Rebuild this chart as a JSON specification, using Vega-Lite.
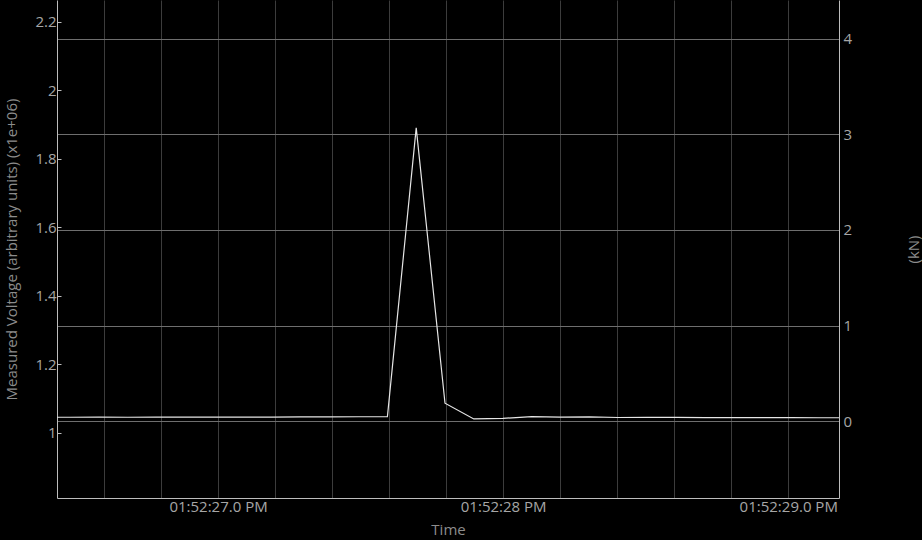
{
  "$schema": "https://vega.github.io/schema/vega-lite/v6.json",
  "width": 782,
  "height": 498,
  "autosize": {"type": "none"},
  "padding": {"left": 57, "top": 0, "right": 83, "bottom": 42},
  "background": "#000000",
  "data": {
    "values": [
      {"seconds": 26.379, "voltage": 1.0458, "force": 0.039},
      {"seconds": 26.481, "voltage": 1.0458, "force": 0.039},
      {"seconds": 26.582, "voltage": 1.0459, "force": 0.039},
      {"seconds": 26.683, "voltage": 1.0458, "force": 0.039},
      {"seconds": 26.784, "voltage": 1.0460, "force": 0.040},
      {"seconds": 26.885, "voltage": 1.0459, "force": 0.039},
      {"seconds": 26.987, "voltage": 1.0460, "force": 0.040},
      {"seconds": 27.088, "voltage": 1.0461, "force": 0.040},
      {"seconds": 27.189, "voltage": 1.0462, "force": 0.040},
      {"seconds": 27.290, "voltage": 1.0466, "force": 0.041},
      {"seconds": 27.391, "voltage": 1.0470, "force": 0.042},
      {"seconds": 27.493, "voltage": 1.0472, "force": 0.043},
      {"seconds": 27.594, "voltage": 1.0476, "force": 0.044},
      {"seconds": 27.695, "voltage": 1.8905, "force": 3.065},
      {"seconds": 27.796, "voltage": 1.0867, "force": 0.184},
      {"seconds": 27.897, "voltage": 1.0409, "force": 0.021},
      {"seconds": 27.999, "voltage": 1.0425, "force": 0.027},
      {"seconds": 28.100, "voltage": 1.0476, "force": 0.044},
      {"seconds": 28.201, "voltage": 1.0460, "force": 0.040},
      {"seconds": 28.302, "voltage": 1.0466, "force": 0.041},
      {"seconds": 28.403, "voltage": 1.0450, "force": 0.036},
      {"seconds": 28.505, "voltage": 1.0452, "force": 0.037},
      {"seconds": 28.606, "voltage": 1.0455, "force": 0.038},
      {"seconds": 28.707, "voltage": 1.0448, "force": 0.036},
      {"seconds": 28.808, "voltage": 1.0446, "force": 0.035},
      {"seconds": 28.909, "voltage": 1.0447, "force": 0.035},
      {"seconds": 29.011, "voltage": 1.0445, "force": 0.035},
      {"seconds": 29.112, "voltage": 1.0443, "force": 0.034},
      {"seconds": 29.213, "voltage": 1.0442, "force": 0.034}
    ]
  },
  "encoding": {
    "x": {
      "field": "seconds",
      "type": "quantitative",
      "title": "Time",
      "scale": {"domain": [26.435, 29.178], "nice": false, "zero": false},
      "axis": {
        "values": [26.6, 26.8, 27, 27.2, 27.4, 27.6, 27.8, 28, 28.2, 28.4, 28.6, 28.8, 29],
        "labelExpr": "datum.value == 27 ? '01:52:27.0 PM' : datum.value == 28 ? '01:52:28 PM' : datum.value == 29 ? '01:52:29.0 PM' : ''",
        "labelOverlap": false,
        "labelFlush": false,
        "ticks": false,
        "grid": true,
        "gridColor": "#3c3c3c",
        "labelPadding": 1,
        "titlePadding": 8
      }
    }
  },
  "layer": [
    {
      "mark": {"type": "line", "color": "#e6e6e6", "strokeWidth": 1.2, "clip": true},
      "encoding": {
        "y": {
          "field": "voltage",
          "type": "quantitative",
          "title": "Measured Voltage (arbitrary units) (x1e+06)",
          "scale": {"domain": [0.81, 2.264], "nice": false, "zero": false},
          "axis": {
            "orient": "left",
            "values": [1, 1.2, 1.4, 1.6, 1.8, 2, 2.2],
            "format": ".2~f",
            "grid": false,
            "ticks": true,
            "tickSize": -4,
            "labelPadding": 5,
            "titlePadding": 15
          }
        }
      }
    },
    {
      "mark": {"type": "line", "color": "#e6e6e6", "strokeOpacity": 0, "clip": true},
      "encoding": {
        "y": {
          "field": "force",
          "type": "quantitative",
          "title": "(kN)",
          "scale": {"domain": [-0.806, 4.408], "nice": false, "zero": false},
          "axis": {
            "orient": "right",
            "values": [0, 1, 2, 3, 4],
            "grid": true,
            "gridColor": "#6e6e6e",
            "ticks": false,
            "labelPadding": 4,
            "titleAngle": -90,
            "titlePadding": 70
          }
        }
      }
    }
  ],
  "resolve": {"scale": {"y": "independent"}},
  "config": {
    "view": {"stroke": null},
    "font": "Open Sans",
    "axis": {
      "labelFont": "Open Sans",
      "titleFont": "Open Sans",
      "labelFontSize": 15,
      "titleFontSize": 15,
      "titleFontWeight": "normal",
      "labelColor": "#a6a6a6",
      "titleColor": "#8c8c8c",
      "domainColor": "#bdbdbd",
      "tickColor": "#bdbdbd",
      "gridWidth": 1
    }
  }
}
